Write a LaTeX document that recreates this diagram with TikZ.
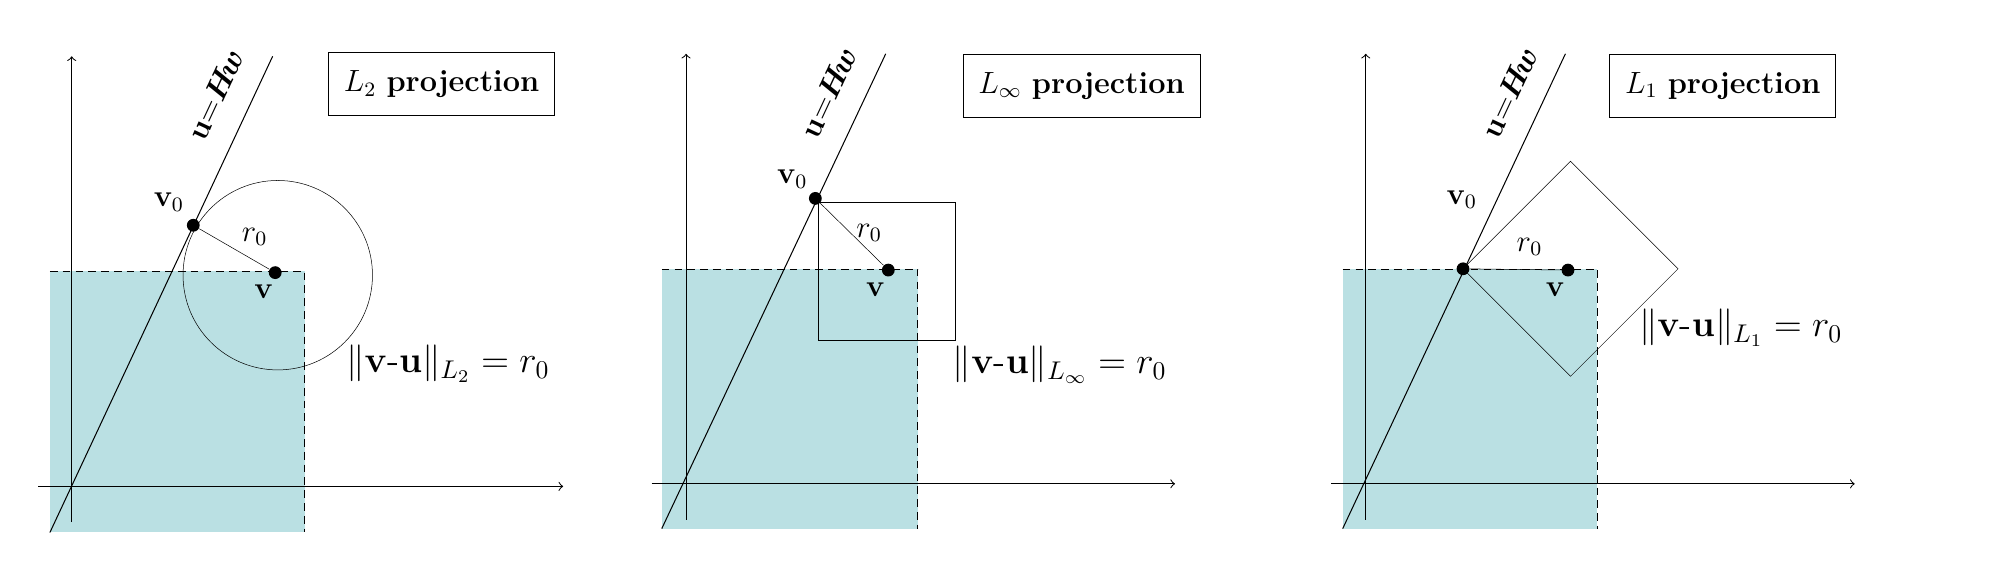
\documentclass[tikz,border=0pt]{standalone}
\usepackage{amsmath}
\usepackage{amssymb}
\usetikzlibrary{positioning}
\definecolor{feasible}{RGB}{186,224,227}
\newcommand{\lineeq}{$\mathbf{u}{=}\boldsymbol{H\!w}$}
\begin{document}
\begin{tikzpicture}[
x=0.5pt,y=-0.5pt,
axis/.style={-to,thin},
region/.style={fill=feasible},
dot/.style={circle,fill,inner sep=0pt,minimum size=5pt},
title/.style={draw,thin,font=\large,inner xsep=6pt,inner ysep=7pt},
lbl/.style={font=\large}
]
\useasboundingbox (0,0) rectangle (1568,443);
% L2 panel
\fill[region] (39,212) rectangle (238,416);
\draw[densely dashed,very thin] (39,212) -- (238,212) -- (238,416);
\draw[axis] (30,380) -- (440,380);
\draw[axis] (56,408) -- (56,44);
\coordinate (a1) at (39,416);
\coordinate (b1) at (213,44);
\draw (a1) -- (b1);
\node[lbl,rotate=65] (e1) at (168,74) {\lineeq};
\node[dot] (v01) at (151,176) {};
\node[dot] (v1) at (215,213) {};
\draw[very thin] (217,215) circle (74);
\draw[very thin] (v01) -- (v1);
\node[lbl] (n01) at (132,158) {$\mathbf{v}_0$};
\node[lbl] (r1) at (199,185) {$r_0$};
\node[lbl] (n1) at (206,228) {$\mathbf{v}$};
\node[title] (t1) at (345,66) {$L_2$ \textbf{projection}};
\node[font=\Large] (f1) at (350,284) {$\|\mathbf{v}\text{-}\mathbf{u}\|_{L_2} = r_0$};
% Linf panel
\fill[region] (517,210) rectangle (717,413);
\draw[densely dashed,very thin] (517,210) -- (717,210) -- (717,413);
\draw[axis] (509,378) -- (918,378);
\draw[axis] (536,406) -- (536,42);
\coordinate (a2) at (517,413);
\coordinate (b2) at (692,42);
\draw (a2) -- (b2);
\node[lbl,rotate=65] (e2) at (647,72) {\lineeq};
\node[dot] (v02) at (637,155) {};
\node[dot] (v2) at (694,211) {};
\draw[very thin] (639,158) rectangle (746,266);
\draw[very thin] (v02) -- (v2);
\node[lbl] (n02) at (619,140) {$\mathbf{v}_0$};
\node[lbl] (r2) at (679,182) {$r_0$};
\node[lbl] (n2) at (684,226) {$\mathbf{v}$};
\node[title] (t2) at (845,67) {$L_\infty$ \textbf{projection}};
\node[font=\Large] (f2) at (828,285) {$\|\mathbf{v}\text{-}\mathbf{u}\|_{L_\infty} = r_0$};
% L1 panel
\fill[region] (1049,210) rectangle (1248,413);
\draw[densely dashed,very thin] (1049,210) -- (1248,210) -- (1248,413);
\draw[axis] (1040,378) -- (1449,378);
\draw[axis] (1067,406) -- (1067,42);
\coordinate (a3) at (1049,413);
\coordinate (b3) at (1223,42);
\draw (a3) -- (b3);
\node[lbl,rotate=65] (e3) at (1179,72) {\lineeq};
\node[dot] (v03) at (1143,210) {};
\node[dot] (v3) at (1225,211) {};
\draw[very thin] (1227,126) -- (1311,210) -- (1227,294) -- (1143,210) -- cycle;
\draw[very thin] (v03) -- (v3);
\node[lbl] (n03) at (1142,156) {$\mathbf{v}_0$};
\node[lbl] (r3) at (1195,193) {$r_0$};
\node[lbl] (n3) at (1215,226) {$\mathbf{v}$};
\node[title] (t3) at (1346,67) {$L_1$ \textbf{projection}};
\node[font=\Large] (f3) at (1360,256) {$\|\mathbf{v}\text{-}\mathbf{u}\|_{L_1} = r_0$};
\end{tikzpicture}
\end{document}
